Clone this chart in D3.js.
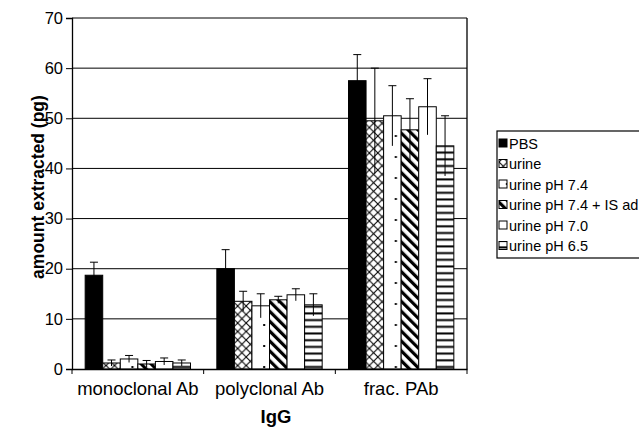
<!DOCTYPE html>
<html>
<head>
<meta charset="utf-8">
<script src="https://cdn.jsdelivr.net/npm/d3@7"></script>
<style>
  html, body { margin: 0; padding: 0; background: #fff; }
  svg { display: block; font-family: "Liberation Sans", Arial, sans-serif; }
</style>
</head>
<body>
<div id="chart"></div>
<script>
// données
const categories = ['monoclonal Ab', 'polyclonal Ab', 'frac. PAb'];
const seriesNames = ['PBS', 'urine', 'urine pH 7.4', 'urine pH 7.4 + IS ad', 'urine pH 7.0', 'urine pH 6.5'];
const seriesPatterns = ['solid', 'cross', 'dots', 'diag', 'plain', 'hstripe'];
const values = [
    [18.7, 1.2, 2.0, 1.0, 1.5, 1.2],
    [20.0, 13.5, 12.6, 13.8, 14.8, 12.8],
    [57.5, 49.5, 50.5, 47.7, 52.3, 44.5]
];
const errors = [
    [2.6, 0.6, 0.7, 0.7, 0.7, 0.6],
    [3.8, 2.0, 2.4, 0.7, 1.2, 2.2],
    [5.2, 10.5, 6.0, 6.2, 5.6, 6.0]
];
const yTicks = [0, 10, 20, 30, 40, 50, 60, 70];

const width = 639, height = 428;
const margin = { left: 72, right: 172, top: 18, bottom: 59 };

const svg = d3.select('#chart').append('svg')
    .attr('width', width)
    .attr('height', height)
    .style('overflow', 'hidden');

// Motifs de remplissage
const defs = svg.append('defs');

const pCross = defs.append('pattern').attr('id', 'p-cross')
    .attr('patternUnits', 'userSpaceOnUse').attr('width', 8.5).attr('height', 8.5);
pCross.append('rect').attr('width', 8.5).attr('height', 8.5).attr('fill', '#fff');
pCross.append('path').attr('d', 'M0,0L8.5,8.5M8.5,0L0,8.5')
    .attr('stroke', '#000').attr('stroke-width', 1.1);

const pDots = defs.append('pattern').attr('id', 'p-dots')
    .attr('patternUnits', 'userSpaceOnUse').attr('width', 17.5).attr('height', 21);
pDots.append('rect').attr('width', 17.5).attr('height', 21).attr('fill', '#fff');
pDots.append('rect').attr('x', 7).attr('y', 9).attr('width', 2).attr('height', 2).attr('fill', '#000');

const pDiag = defs.append('pattern').attr('id', 'p-diag')
    .attr('patternUnits', 'userSpaceOnUse').attr('width', 7).attr('height', 7)
    .attr('patternTransform', 'rotate(-45)');
pDiag.append('rect').attr('width', 7).attr('height', 7).attr('fill', '#fff');
pDiag.append('rect').attr('width', 3.2).attr('height', 7).attr('fill', '#000');

const pStripe = defs.append('pattern').attr('id', 'p-hstripe')
    .attr('patternUnits', 'userSpaceOnUse').attr('width', 10).attr('height', 6.7);
pStripe.append('rect').attr('width', 10).attr('height', 6.7).attr('fill', '#fff');
pStripe.append('rect').attr('y', 4.2).attr('width', 10).attr('height', 2).attr('fill', '#000');

function fillFor(p) {
    if (p === 'solid') return '#000';
    if (p === 'plain') return '#fff';
    return 'url(#p-' + p + ')';
}

const plotW = width - margin.left - margin.right;
const plotH = height - margin.top - margin.bottom;

const x0 = d3.scaleBand().domain(categories).range([margin.left, margin.left + plotW]).padding(0);
const x1 = d3.scaleBand().domain(seriesNames).range([0, x0.bandwidth()])
    .paddingInner(0).paddingOuter(0.75);
const y = d3.scaleLinear().domain([0, 70]).range([margin.top + plotH, margin.top]);

// Grille
svg.append('g')
    .selectAll('line')
    .data(yTicks.filter(d => d > 0))
    .enter()
    .append('line')
    .attr('x1', margin.left).attr('x2', margin.left + plotW)
    .attr('y1', d => y(d)).attr('y2', d => y(d))
    .attr('stroke', '#000').attr('stroke-width', 1);

// cadre droit
svg.append('line')
    .attr('x1', margin.left + plotW).attr('x2', margin.left + plotW)
    .attr('y1', y(70)).attr('y2', y(0))
    .attr('stroke', '#000').attr('stroke-width', 1.3);

// Barres
const groups = svg.append('g')
    .selectAll('g')
    .data(categories)
    .enter()
    .append('g')
    .attr('transform', d => `translate(${x0(d)},0)`);

groups.selectAll('rect')
    .data((c, i) => seriesNames.map((s, j) => ({ s, j, v: values[i][j], e: errors[i][j] })))
    .enter()
    .append('rect')
    .attr('x', d => x1(d.s))
    .attr('y', d => y(d.v))
    .attr('width', x1.bandwidth())
    .attr('height', d => y(0) - y(d.v))
    .attr('fill', d => fillFor(seriesPatterns[d.j]))
    .attr('stroke', '#000')
    .attr('stroke-width', 1);

// Barres d'erreur
const eb = groups.selectAll('g.err')
    .data((c, i) => seriesNames.map((s, j) => ({ s, j, v: values[i][j], e: errors[i][j] })))
    .enter()
    .append('g')
    .attr('class', 'err');

eb.append('line')
    .attr('x1', d => x1(d.s) + x1.bandwidth() / 2)
    .attr('x2', d => x1(d.s) + x1.bandwidth() / 2)
    .attr('y1', d => y(Math.max(0, d.v - d.e)))
    .attr('y2', d => y(d.v + d.e))
    .attr('stroke', '#000').attr('stroke-width', 1);

eb.append('line')
    .attr('x1', d => x1(d.s) + x1.bandwidth() / 2 - 4)
    .attr('x2', d => x1(d.s) + x1.bandwidth() / 2 + 4)
    .attr('y1', d => y(d.v + d.e))
    .attr('y2', d => y(d.v + d.e))
    .attr('stroke', '#000').attr('stroke-width', 1);

// Axe Y
const yAxis = svg.append('g')
    .attr('transform', `translate(${margin.left},0)`)
    .call(d3.axisLeft(y).tickValues(yTicks).tickSize(6).tickPadding(3));
yAxis.select('.domain').attr('stroke', '#000').attr('stroke-width', 1.3);
yAxis.selectAll('text').attr('font-size', 16.5).attr('fill', '#000')
    .attr('font-family', '"Liberation Sans", Arial, sans-serif');

// Axe X
const xAxis = svg.append('g')
    .attr('transform', `translate(0,${y(0)})`)
    .call(d3.axisBottom(x0).tickSize(0).tickPadding(13));
xAxis.select('.domain').attr('stroke', '#000').attr('stroke-width', 1.3);
xAxis.selectAll('text').attr('font-size', 18.5).attr('fill', '#000')
    .attr('font-family', '"Liberation Sans", Arial, sans-serif');

// graduations entre catégories
svg.append('g')
    .selectAll('line')
    .data(categories.concat(['end']))
    .enter()
    .append('line')
    .attr('x1', (d, i) => i < categories.length ? x0(d) : x0.range()[1])
    .attr('x2', (d, i) => i < categories.length ? x0(d) : x0.range()[1])
    .attr('y1', y(0)).attr('y2', y(0) + 5)
    .attr('stroke', '#000').attr('stroke-width', 1);

// Titres
svg.append('text')
    .attr('transform', `translate(44,187) rotate(-90)`)
    .attr('text-anchor', 'middle')
    .attr('font-size', 17.5)
    .attr('font-weight', 'bold')
    .text('amount extracted (pg)');

svg.append('text')
    .attr('x', 276)
    .attr('y', 423)
    .attr('text-anchor', 'middle')
    .attr('font-size', 18.5)
    .attr('font-weight', 'bold')
    .text('IgG');

// Légende (coupée au bord droit comme l'original)
const legX = 497, legY = 131, rowH = 20.5;
svg.append('rect')
    .attr('x', legX).attr('y', legY)
    .attr('width', 170).attr('height', rowH * seriesNames.length + 4)
    .attr('fill', '#fff').attr('stroke', '#000').attr('stroke-width', 1.2);

const leg = svg.append('g')
    .selectAll('g')
    .data(seriesNames)
    .enter()
    .append('g')
    .attr('transform', (d, i) => `translate(${legX + 2},${legY + 2 + i * rowH})`);

leg.append('rect')
    .attr('x', 0).attr('y', 6)
    .attr('width', 8).attr('height', 8)
    .attr('fill', (d, i) => fillFor(seriesPatterns[i]))
    .attr('stroke', '#000').attr('stroke-width', 1);

leg.append('text')
    .attr('x', 10).attr('y', 15.5)
    .attr('font-size', 14.5)
    .text(d => d);
</script>
</body>
</html>
